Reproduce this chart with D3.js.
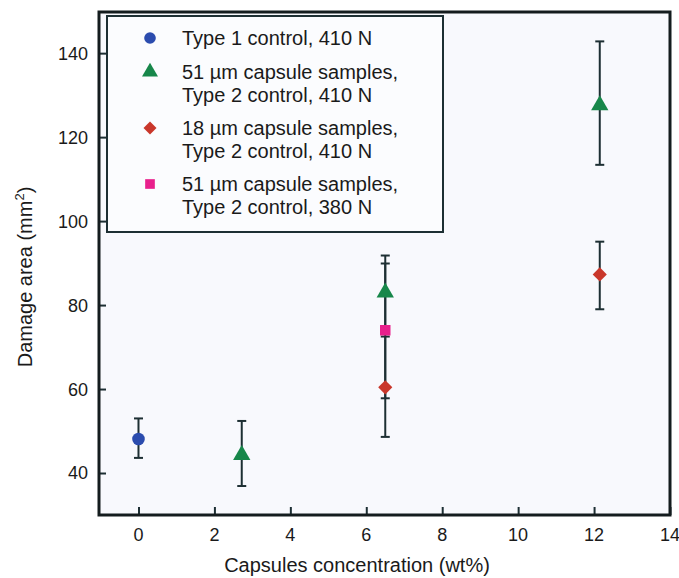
<!DOCTYPE html>
<html>
<head>
<meta charset="utf-8">
<script src="https://d3js.org/d3.v7.min.js"></script>
<style>
  body { margin: 0; background: #fff; }
  text { font-family: "Liberation Sans", Arial, sans-serif; fill: #1a1a1a; }
</style>
</head>
<body>
<svg id="chart" width="679" height="578"></svg>
<script>
// series data: x (wt%), y (mm2), lo/hi error bar ends
var type1 = [{x: 0, y: 48.1, lo: 43.6, hi: 53.0}];
var caps51_410 = [
  {x: 2.72, y: 44.3, lo: 36.9, hi: 52.4},
  {x: 6.5, y: 83.0, lo: 73.5, hi: 91.8},
  {x: 12.15, y: 127.6, lo: 113.4, hi: 142.8}
];
var caps18_410 = [
  {x: 6.5, y: 60.4, lo: 48.6, hi: 72.5},
  {x: 12.15, y: 87.3, lo: 79.0, hi: 95.1}
];
var caps51_380 = [{x: 6.5, y: 74.0, lo: 57.8, hi: 89.9}];

var xTicks = [0, 2, 4, 6, 8, 10, 12, 14];
var yTicks = [40, 60, 80, 100, 120, 140];

var series = [
  {name: ["Type 1 control, 410 N"], data: type1, color: "#2b4cae", shape: d3.symbolCircle, size: 125, rot: 0},
  {name: ["51 \u00b5m capsule samples,", "Type 2 control, 410 N"], data: caps51_410, color: "#17874a", shape: d3.symbolTriangle, size: 130, rot: 0},
  {name: ["18 \u00b5m capsule samples,", "Type 2 control, 410 N"], data: caps18_410, color: "#c9372b", shape: d3.symbolSquare, size: 100, rot: 45},
  {name: ["51 \u00b5m capsule samples,", "Type 2 control, 380 N"], data: caps51_380, color: "#e8208c", shape: d3.symbolSquare, size: 110, rot: 0}
];

var mLeft = 99, mRight = 670, mTop = 12, mBottom = 515;
var svg = d3.select("#chart");

var x = d3.scaleLinear().domain([-1.04, 14]).range([mLeft, mRight]);
var y = d3.scaleLinear().domain([30, 149.8]).range([mBottom, mTop]);

// plot background
svg.append("rect")
  .attr("x", mLeft).attr("y", mTop)
  .attr("width", mRight - mLeft).attr("height", mBottom - mTop)
  .attr("fill", "#f8f9fd");

// inward ticks
svg.append("g")
  .attr("transform", "translate(0," + mBottom + ")")
  .call(d3.axisTop(x).tickValues(xTicks).tickSize(8).tickFormat(""))
  .call(function(g) { g.select(".domain").remove(); })
  .selectAll("line").attr("stroke", "#1d2f33").attr("stroke-width", 2);
svg.append("g")
  .attr("transform", "translate(" + mLeft + ",0)")
  .call(d3.axisRight(y).tickValues(yTicks).tickSize(7).tickFormat(""))
  .call(function(g) { g.select(".domain").remove(); })
  .selectAll("line").attr("stroke", "#1d2f33").attr("stroke-width", 2);

// tick labels
svg.append("g").selectAll("text").data(xTicks).enter().append("text")
  .attr("x", function(d) { return x(d); })
  .attr("y", mBottom + 26)
  .attr("text-anchor", "middle")
  .attr("font-size", 18)
  .text(function(d) { return d; });
svg.append("g").selectAll("text").data(yTicks).enter().append("text")
  .attr("x", mLeft - 11)
  .attr("y", function(d) { return y(d); })
  .attr("dy", "0.36em")
  .attr("text-anchor", "end")
  .attr("font-size", 18)
  .text(function(d) { return d; });

// axis titles
svg.append("text")
  .attr("x", 357).attr("y", 572)
  .attr("text-anchor", "middle")
  .attr("font-size", 20)
  .text("Capsules concentration (wt%)");
var yl = svg.append("text")
  .attr("transform", "translate(32,277) rotate(-90)")
  .attr("text-anchor", "middle")
  .attr("font-size", 20);
yl.append("tspan").text("Damage area (mm");
yl.append("tspan").attr("font-size", 13).attr("dy", -8).text("2");
yl.append("tspan").attr("dy", 8).text(")");

// error bars + markers
series.forEach(function(s) {
  var g = svg.append("g");
  s.data.forEach(function(d) {
    var cx = x(d.x);
    g.append("line").attr("x1", cx).attr("x2", cx).attr("y1", y(d.lo)).attr("y2", y(d.hi))
      .attr("stroke", "#1d2f33").attr("stroke-width", 2);
    [d.lo, d.hi].forEach(function(v) {
      g.append("line").attr("x1", cx - 4.5).attr("x2", cx + 4.5).attr("y1", y(v)).attr("y2", y(v))
        .attr("stroke", "#1d2f33").attr("stroke-width", 2);
    });
  });
});
series.forEach(function(s) {
  svg.append("g").selectAll("path").data(s.data).enter().append("path")
    .attr("d", d3.symbol().type(s.shape).size(s.size))
    .attr("transform", function(d) { return "translate(" + x(d.x) + "," + y(d.y) + ") rotate(" + s.rot + ")"; })
    .attr("fill", s.color);
});

// frame
svg.append("rect")
  .attr("x", mLeft).attr("y", mTop)
  .attr("width", mRight - mLeft).attr("height", mBottom - mTop)
  .attr("fill", "none").attr("stroke", "#141c1e").attr("stroke-width", 3);

// legend
var leg = svg.append("g");
leg.append("rect")
  .attr("x", 107).attr("y", 16).attr("width", 336).attr("height", 216)
  .attr("fill", "#fbfcfe").attr("stroke", "#1d2f33").attr("stroke-width", 2);
var rowY = [38, 72, 128, 184];
series.forEach(function(s, i) {
  leg.append("path")
    .attr("d", d3.symbol().type(s.shape).size(s.size * 0.85))
    .attr("transform", "translate(150," + rowY[i] + ") rotate(" + s.rot + ")")
    .attr("fill", s.color);
  s.name.forEach(function(line, j) {
    leg.append("text")
      .attr("x", 182).attr("y", rowY[i] + j * 23)
      .attr("dy", "0.36em")
      .attr("font-size", 20)
      .text(line);
  });
});
</script>
</body>
</html>
